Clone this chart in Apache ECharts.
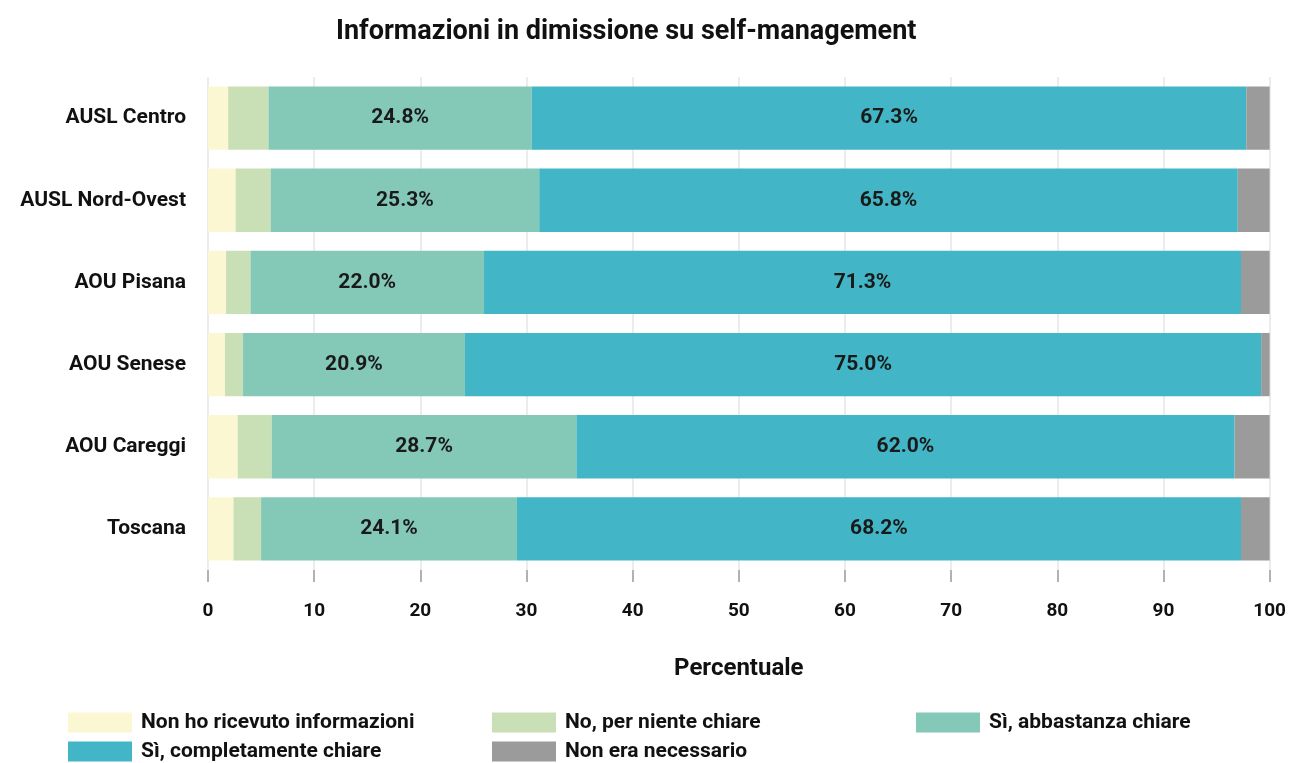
<!DOCTYPE html>
<html lang="it">
<head>
    <meta charset="UTF-8">
    <title>Informazioni in dimissione su self-management</title>
    <style>
        html, body { margin: 0; padding: 0; background: #fff; }
        #chart { width: 1289px; height: 763px; }
    </style>
</head>
<body>
    <div id="chart"></div>
    <script src="https://cdn.jsdelivr.net/npm/echarts@6/dist/echarts.min.js"></script>
    <script>
        var FONT = 'Roboto, sans-serif';

        // categorie (dall'alto in basso)
        var categories = ['AUSL Centro', 'AUSL Nord-Ovest', 'AOU Pisana', 'AOU Senese', 'AOU Careggi', 'Toscana'];
        var seriesNames = ['Non ho ricevuto informazioni', 'No, per niente chiare', 'Sì, abbastanza chiare', 'Sì, completamente chiare', 'Non era necessario'];
        var colors = ['#fbf7d3', '#c9e0b6', '#84c8b8', '#42b6c6', '#9b9b9b'];

        var nonRicevuto = [1.9, 2.6, 1.7, 1.6, 2.8, 2.4];
        var perNiente = [3.8, 3.3, 2.3, 1.7, 3.2, 2.6];
        var abbastanza = [24.8, 25.3, 22.0, 20.9, 28.7, 24.1];
        var completamente = [67.3, 65.8, 71.3, 75.0, 62.0, 68.2];
        var nonNecessario = [2.2, 3.0, 2.7, 0.8, 3.3, 2.7];

        var values = [nonRicevuto, perNiente, abbastanza, completamente, nonNecessario];
        var xTicks = [0, 10, 20, 30, 40, 50, 60, 70, 80, 90, 100];

        var series = seriesNames.map(function (name, i) {
            var showLabel = (i === 2 || i === 3);
            return {
                name: name,
                type: 'bar',
                stack: 'tot',
                barCategoryGap: '23%',
                itemStyle: { color: colors[i] },
                label: {
                    show: showLabel,
                    position: 'inside',
                    color: '#1a1a1a',
                    fontFamily: FONT,
                    fontWeight: 'bold',
                    fontSize: 21,
                    padding: [12, 0, 0, 0],
                    formatter: function (p) { return p.value.toFixed(1) + '%'; }
                },
                data: values[i].slice().reverse()
            };
        });

        // posizione di ogni voce della legenda (colonna, riga)
        var legendPos = [[68, 712], [492, 712], [916, 712], [68, 741], [492, 741]];
        var legends = seriesNames.map(function (name, i) {
            return {
                left: legendPos[i][0],
                top: legendPos[i][1],
                itemWidth: 64,
                itemHeight: 20,
                padding: 0,
                icon: 'rect',
                selectedMode: false,
                textStyle: { color: '#111', fontFamily: FONT, fontWeight: 'bold', fontSize: 21, padding: [0, 0, 0, 4] },
                data: [name]
            };
        });

        var option = {
            animation: false,
            title: {
                text: 'Informazioni in dimissione su self-management',
                left: 331,
                top: 14,
                textStyle: { color: '#111', fontFamily: FONT, fontWeight: 'bold', fontSize: 27 }
            },
            legend: legends,
            grid: { left: 208, right: 19, top: 77, bottom: 193 },
            xAxis: {
                type: 'value',
                min: 0,
                max: 100,
                interval: 10,
                name: 'Percentuale',
                nameLocation: 'middle',
                nameGap: 87,
                nameTextStyle: { color: '#111', fontFamily: FONT, fontWeight: 'bold', fontSize: 24 },
                axisLine: { show: false },
                axisTick: { show: true, length: 12, lineStyle: { color: '#999', width: 1.5 } },
                axisLabel: {
                    margin: 32,
                    color: '#111',
                    fontFamily: FONT,
                    fontWeight: 'bold',
                    fontSize: 19,
                    formatter: function (v) { return xTicks.indexOf(v) >= 0 ? String(v) : ''; }
                },
                splitLine: { show: true, lineStyle: { color: '#ececec', width: 2 } }
            },
            yAxis: {
                type: 'category',
                data: categories.slice().reverse(),
                axisLine: { show: false },
                axisTick: { show: false },
                axisLabel: {
                    margin: 22,
                    color: '#111',
                    fontFamily: FONT,
                    fontWeight: 'bold',
                    fontSize: 21,
                    padding: [12, 0, 0, 0]
                }
            },
            series: series
        };

        var myChart = echarts.init(document.getElementById('chart'));
        myChart.setOption(option);
        window.onresize = function () {
            myChart.resize();
        };
    </script>
</body>
</html>
